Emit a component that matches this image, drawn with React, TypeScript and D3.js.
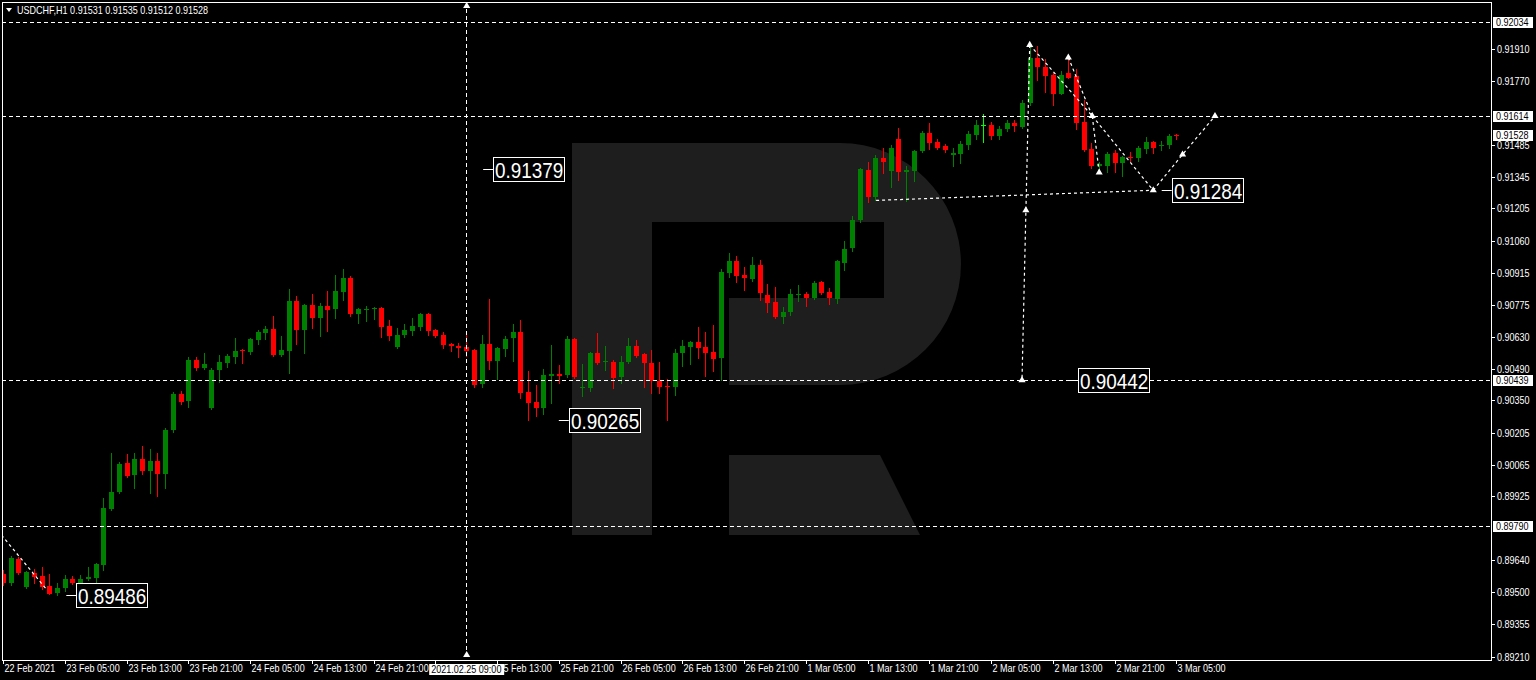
import { useEffect, useRef } from "react"
import * as d3 from "d3"

// USDCHF H1, one bar per hour from 22 Feb 2021 21:00 to 3 Mar 2021 05:00
const opens = [
  0.89578, 0.89539, 0.89645, 0.89521, 0.89583, 0.8957, 0.89525, 0.89494, 0.89516, 0.89556,
  0.89521, 0.89556, 0.89561, 0.89618, 0.89867, 0.89943, 0.90071, 0.90018, 0.90089, 0.90036,
  0.9008, 0.90022, 0.90218, 0.90378, 0.90347, 0.90529, 0.90493, 0.90316, 0.90484, 0.90515,
  0.90542, 0.90573, 0.90564, 0.90617, 0.90649, 0.90666, 0.90551, 0.90569, 0.90791, 0.90662,
  0.90773, 0.90715, 0.90768, 0.90755, 0.90831, 0.90893, 0.90733, 0.90751, 0.90755, 0.90759,
  0.9068, 0.90586, 0.9064, 0.90657, 0.90675, 0.90733, 0.90662, 0.9064, 0.906, 0.90591,
  0.90586, 0.90573, 0.90422, 0.906, 0.90524, 0.90577, 0.90626, 0.90653, 0.90387, 0.90342,
  0.90316, 0.90458, 0.90466, 0.90462, 0.90622, 0.90404, 0.90404, 0.9056, 0.9052, 0.9052,
  0.90453, 0.9052, 0.90591, 0.90555, 0.90515, 0.90436, 0.90413, 0.90409, 0.9056, 0.90586,
  0.90609, 0.90586, 0.90564, 0.90537, 0.90915, 0.90968, 0.90906, 0.90888, 0.9095, 0.90817,
  0.90786, 0.9072, 0.90742, 0.90817, 0.90822, 0.90804, 0.90875, 0.90831, 0.90799, 0.90959,
  0.91026, 0.9115, 0.91372, 0.91252, 0.91426, 0.91368, 0.91514, 0.91363, 0.91368, 0.91457,
  0.91537, 0.91497, 0.91479, 0.91439, 0.91443, 0.91483, 0.91528, 0.91572, 0.91572, 0.91523,
  0.91555, 0.91581, 0.91563, 0.9167, 0.91874, 0.9183, 0.91798, 0.91714, 0.91803, 0.9179,
  0.91586, 0.91466, 0.9139, 0.91394, 0.91448, 0.91403, 0.9143, 0.91426, 0.91466, 0.91497,
  0.91479, 0.91483, 0.91531,
]
const highs = [
  0.89596, 0.89658, 0.89654, 0.89592, 0.89601, 0.8961, 0.89578, 0.89539, 0.89574, 0.8957,
  0.89574, 0.8961, 0.89627, 0.89916, 0.90116, 0.90076, 0.90111, 0.90116, 0.90147, 0.90133,
  0.90116, 0.90227, 0.90387, 0.90391, 0.90542, 0.90542, 0.9056, 0.90493, 0.90551, 0.90555,
  0.90626, 0.90577, 0.90626, 0.90662, 0.9068, 0.90724, 0.90635, 0.90844, 0.90813, 0.90777,
  0.90822, 0.90782, 0.90835, 0.90906, 0.90933, 0.90902, 0.90759, 0.90768, 0.90764, 0.90764,
  0.90706, 0.90671, 0.90689, 0.90715, 0.90737, 0.90737, 0.90666, 0.90653, 0.90604, 0.90604,
  0.90653, 0.90577, 0.9064, 0.90799, 0.90586, 0.90635, 0.90689, 0.90706, 0.9048, 0.90418,
  0.90489, 0.90595, 0.90506, 0.90635, 0.90626, 0.90511, 0.90564, 0.90649, 0.90591, 0.90529,
  0.90546, 0.90626, 0.90617, 0.9056, 0.90573, 0.9052, 0.90444, 0.90577, 0.90617, 0.90613,
  0.90675, 0.90653, 0.90684, 0.90933, 0.91004, 0.9099, 0.90942, 0.90986, 0.90973, 0.90866,
  0.90853, 0.90764, 0.90844, 0.90862, 0.90831, 0.90879, 0.90879, 0.90848, 0.90973, 0.91057,
  0.91168, 0.91385, 0.91408, 0.91439, 0.91474, 0.91483, 0.91559, 0.9139, 0.91461, 0.91546,
  0.91581, 0.9151, 0.91488, 0.9147, 0.91501, 0.91546, 0.91598, 0.91625, 0.91586, 0.91568,
  0.91598, 0.91598, 0.91683, 0.9193, 0.91923, 0.91869, 0.91803, 0.91812, 0.91874, 0.91821,
  0.91683, 0.91492, 0.91408, 0.91452, 0.91461, 0.91435, 0.91452, 0.91479, 0.91519, 0.91501,
  0.91501, 0.91532, 0.91535,
]
const lows = [
  0.8953, 0.8953, 0.89578, 0.89516, 0.89539, 0.89512, 0.89488, 0.89486, 0.89503, 0.89534,
  0.89516, 0.89552, 0.89521, 0.89596, 0.89863, 0.89938, 0.90009, 0.8996, 0.90022, 0.89938,
  0.89925, 0.8996, 0.90209, 0.90333, 0.9032, 0.90484, 0.90489, 0.90311, 0.90431, 0.90498,
  0.90515, 0.90515, 0.90555, 0.906, 0.90622, 0.90546, 0.90546, 0.90471, 0.906, 0.9056,
  0.90671, 0.90635, 0.90657, 0.90715, 0.90795, 0.90724, 0.90693, 0.90702, 0.90711, 0.90631,
  0.90617, 0.90582, 0.90631, 0.9064, 0.90662, 0.9064, 0.90631, 0.90582, 0.90569, 0.90542,
  0.90546, 0.90409, 0.90409, 0.90489, 0.90444, 0.90546, 0.90524, 0.9036, 0.90265, 0.9028,
  0.90289, 0.90338, 0.90427, 0.90453, 0.90449, 0.90369, 0.90391, 0.90511, 0.90484, 0.90404,
  0.90427, 0.90515, 0.90542, 0.90409, 0.90382, 0.90382, 0.90262, 0.90373, 0.90502, 0.90511,
  0.90537, 0.90458, 0.9048, 0.9044, 0.90897, 0.90875, 0.90839, 0.90879, 0.90795, 0.90742,
  0.90715, 0.90693, 0.90728, 0.90791, 0.90768, 0.90799, 0.90822, 0.90777, 0.90782, 0.90928,
  0.91013, 0.91141, 0.9123, 0.91243, 0.91359, 0.91297, 0.91328, 0.91235, 0.91324, 0.91452,
  0.91466, 0.91466, 0.91452, 0.91394, 0.91403, 0.91466, 0.9151, 0.91497, 0.91514, 0.9151,
  0.91546, 0.91546, 0.91559, 0.91665, 0.91776, 0.91719, 0.91661, 0.9171, 0.91781, 0.91555,
  0.91457, 0.91385, 0.91359, 0.91363, 0.91363, 0.91346, 0.91412, 0.91412, 0.91448, 0.91448,
  0.91461, 0.91474, 0.91512,
]
const closes = [
  0.89539, 0.8965, 0.89583, 0.89587, 0.89565, 0.89521, 0.8949, 0.89516, 0.89556, 0.89539,
  0.89556, 0.89565, 0.89623, 0.89871, 0.89943, 0.90067, 0.90014, 0.90089, 0.90036, 0.9008,
  0.90022, 0.90218, 0.90378, 0.90342, 0.90529, 0.90493, 0.90511, 0.90484, 0.9052, 0.90546,
  0.90569, 0.90569, 0.90622, 0.90653, 0.90666, 0.90551, 0.90573, 0.90791, 0.90662, 0.90773,
  0.90715, 0.90768, 0.90751, 0.90835, 0.90893, 0.90733, 0.90755, 0.90755, 0.90759, 0.90675,
  0.90635, 0.9064, 0.90662, 0.9068, 0.90733, 0.90657, 0.90635, 0.90595, 0.90591, 0.90582,
  0.90569, 0.90418, 0.906, 0.90524, 0.90582, 0.90622, 0.90653, 0.90382, 0.90338, 0.90316,
  0.90462, 0.90466, 0.90458, 0.90622, 0.90453, 0.90409, 0.9056, 0.90515, 0.90524, 0.90449,
  0.9052, 0.90591, 0.90546, 0.90515, 0.90436, 0.90409, 0.90409, 0.9056, 0.90591, 0.90609,
  0.90582, 0.9056, 0.90533, 0.90919, 0.90968, 0.90902, 0.90893, 0.9095, 0.90826, 0.90782,
  0.9072, 0.90742, 0.90822, 0.90822, 0.90804, 0.90871, 0.90826, 0.90804, 0.90968, 0.91021,
  0.9115, 0.91377, 0.91252, 0.91426, 0.91408, 0.9147, 0.91363, 0.91372, 0.91457, 0.91537,
  0.91492, 0.91474, 0.91461, 0.91448, 0.91488, 0.91532, 0.91572, 0.91572, 0.91523, 0.91555,
  0.91581, 0.91568, 0.91674, 0.91874, 0.9183, 0.91794, 0.91714, 0.91798, 0.91785, 0.91581,
  0.91461, 0.9139, 0.91399, 0.91443, 0.91403, 0.9143, 0.91426, 0.91474, 0.91497, 0.91474,
  0.91483, 0.91523, 0.91528,
]

// one time label every 8 bars, starting at bar 0
const timeLabels = [
  "22 Feb 2021", "23 Feb 05:00", "23 Feb 13:00", "23 Feb 21:00", "24 Feb 05:00",
  "24 Feb 13:00", "24 Feb 21:00", "25 Feb 05:00", "25 Feb 13:00", "25 Feb 21:00",
  "26 Feb 05:00", "26 Feb 13:00", "26 Feb 21:00", "1 Mar 05:00", "1 Mar 13:00",
  "1 Mar 21:00", "2 Mar 05:00", "2 Mar 13:00", "2 Mar 21:00", "3 Mar 05:00",
]
const priceTicks = [
  0.9191, 0.9177, 0.91485, 0.91345, 0.91205, 0.9106, 0.90915, 0.90775, 0.9063, 0.9049,
  0.9035, 0.90205, 0.90065, 0.89925, 0.8964, 0.895, 0.89355, 0.8921,
]
const markedPrices = [0.92034, 0.91614, 0.91528, 0.90439, 0.8979]
const levelPrices = [0.92034, 0.91614, 0.90439, 0.8979]

const crossBar = 60
const crossLabel = "2021.02.25 09:00"

// price callouts: bar where the leader starts, and the price
const calloutBars = [8.2, 62.2, 72, 138, 150.1]
const calloutPrices = [0.89486, 0.91379, 0.90265, 0.90442, 0.91284]

// dashed analysis lines as [bar, price] pairs
const trendLines: [number, number][][] = [
  [[-0.2, 0.89752], [5.6, 0.89512]],
  [[113.1, 0.91239], [149, 0.91284]],
  [[133, 0.9193], [132, 0.9044]],
  [[133, 0.9193], [141.1, 0.91614]],
  [[138, 0.91874], [141.1, 0.91614]],
  [[141.1, 0.91614], [142, 0.91363]],
  [[141.1, 0.91614], [149, 0.91284], [152.8, 0.91443], [157, 0.91614]],
]
const markerPoints: [number, number][] = [
  [133, 0.9193], [138, 0.91874], [141.1, 0.91614], [142, 0.91363], [149, 0.91284],
  [152.8, 0.91443], [157, 0.91614], [132.5, 0.91195], [132, 0.9044],
]

const FONT = "'Liberation Sans', Arial, sans-serif"
const SX = 0.86

export default function App() {
  const svgRef = useRef<SVGSVGElement>(null)

  useEffect(() => {
    if (!svgRef.current) return
    const svg = d3.select(svgRef.current)
    svg.selectAll("*").remove()

    const frame = { left: 2, top: 2, right: 1491, bottom: 660 }
    const x = d3.scaleLinear().domain([0, 152]).range([3, 1176.4])
    const y = d3.scaleLinear().domain([0.8921, 0.92034]).range([657, 21.5])

    const text = (g: any, tx: number, ty: number, str: string, size: number, fill: string) =>
      g
        .append("text")
        .attr("transform", `translate(${tx},${ty}) scale(${SX},1)`)
        .attr("font-family", FONT)
        .attr("font-size", size)
        .attr("fill", fill)
        .text(str)

    svg.append("rect").attr("width", 1536).attr("height", 680).attr("fill", "#000")

    // RoboForex watermark
    svg
      .append("path")
      .attr("fill", "#1e1e1e")
      .attr("fill-rule", "evenodd")
      .attr(
        "d",
        "M572,143 H840 A121,121 0 0 1 840,385 H729 V298 H652 V535 H572 Z M652,222 H884 V298 H652 Z M729,455 H880 L920,535 H729 Z"
      )

    const clip = svg.append("clipPath").attr("id", "plot-clip")
    clip
      .append("rect")
      .attr("x", frame.left + 1)
      .attr("y", frame.top + 1)
      .attr("width", frame.right - frame.left - 1)
      .attr("height", frame.bottom - frame.top - 1)

    const plot = svg.append("g").attr("clip-path", "url(#plot-clip)")

    // candles
    const bars = d3.range(opens.length)
    const colorOf = (i: number) =>
      closes[i] > opens[i] ? "#008000" : closes[i] < opens[i] ? "#ff0000" : "#00ff00"

    plot
      .selectAll(".wick")
      .data(bars)
      .enter()
      .append("line")
      .attr("x1", (i) => Math.round(x(i)) + 0.5)
      .attr("x2", (i) => Math.round(x(i)) + 0.5)
      .attr("y1", (i) => Math.round(y(highs[i])))
      .attr("y2", (i) => Math.round(y(lows[i])) + 1)
      .attr("stroke", colorOf)
      .attr("stroke-width", 1)

    plot
      .selectAll(".body")
      .data(bars)
      .enter()
      .append("rect")
      .attr("x", (i) => Math.round(x(i)) - 2)
      .attr("y", (i) => Math.round(y(Math.max(opens[i], closes[i]))))
      .attr("width", 5)
      .attr("height", (i) =>
        Math.max(1, Math.round(y(Math.min(opens[i], closes[i]))) - Math.round(y(Math.max(opens[i], closes[i]))))
      )
      .attr("fill", colorOf)
      .attr("shape-rendering", "crispEdges")

    // horizontal levels and the crosshair line
    const dash = "4,3"
    levelPrices.forEach((p) => {
      plot
        .append("line")
        .attr("x1", frame.left)
        .attr("x2", frame.right)
        .attr("y1", Math.round(y(p)) + 0.5)
        .attr("y2", Math.round(y(p)) + 0.5)
        .attr("stroke", "#fff")
        .attr("stroke-dasharray", dash)
    })
    plot
      .append("line")
      .attr("x1", Math.round(x(crossBar)) + 0.5)
      .attr("x2", Math.round(x(crossBar)) + 0.5)
      .attr("y1", frame.top)
      .attr("y2", frame.bottom)
      .attr("stroke", "#fff")
      .attr("stroke-dasharray", dash)

    // analysis lines
    const line = d3
      .line<[number, number]>()
      .x((d) => x(d[0]))
      .y((d) => y(d[1]))
    trendLines.forEach((pts) => {
      plot
        .append("path")
        .attr("d", line(pts))
        .attr("fill", "none")
        .attr("stroke", "#fff")
        .attr("stroke-width", 1.2)
        .attr("stroke-dasharray", "3,3")
    })
    const marker = d3.symbol().type(d3.symbolTriangle).size(22)
    markerPoints.forEach((d) => {
      plot
        .append("path")
        .attr("d", marker)
        .attr("transform", `translate(${x(d[0])},${y(d[1])})`)
        .attr("fill", "#fff")
    })
    ;[frame.top + 4, frame.bottom - 5].forEach((py) => {
      plot
        .append("path")
        .attr("d", marker)
        .attr("transform", `translate(${x(crossBar) + 0.5},${py})`)
        .attr("fill", "#fff")
    })

    // price callouts
    calloutBars.forEach((b, k) => {
      const cx = x(b)
      const cy = Math.round(y(calloutPrices[k])) + 0.5
      plot
        .append("line")
        .attr("x1", cx)
        .attr("x2", cx + 10)
        .attr("y1", cy)
        .attr("y2", cy)
        .attr("stroke", "#fff")
      plot
        .append("rect")
        .attr("x", Math.round(cx + 10) + 0.5)
        .attr("y", cy - 12)
        .attr("width", 71)
        .attr("height", 24)
        .attr("fill", "#000")
        .attr("stroke", "#fff")
      text(plot, Math.round(cx + 12), cy + 8, calloutPrices[k].toFixed(5), 22, "#fff")
    })

    // frame
    svg
      .append("rect")
      .attr("x", frame.left + 0.5)
      .attr("y", frame.top + 0.5)
      .attr("width", frame.right - frame.left)
      .attr("height", frame.bottom - frame.top)
      .attr("fill", "none")
      .attr("stroke", "#fff")

    // price axis
    priceTicks.forEach((p) => {
      const py = Math.round(y(p)) + 0.5
      svg.append("line").attr("x1", frame.right).attr("x2", frame.right + 4).attr("y1", py).attr("y2", py).attr("stroke", "#fff")
      text(svg, 1497, py + 3.5, p.toFixed(5), 10.5, "#fff")
    })
    markedPrices.forEach((p) => {
      const py = Math.round(y(p))
      svg.append("rect").attr("x", 1493).attr("y", py - 5).attr("width", 40).attr("height", 11).attr("fill", "#fff")
      text(svg, 1496, py + 4, p.toFixed(5), 10.5, "#000")
    })

    // time axis; the crosshair box hides the label under it
    const chx = x(crossBar)
    const boxLeft = chx - 37
    const boxRight = chx + 38
    timeLabels.forEach((t, k) => {
      const tx = Math.round(x(k * 8)) + 0.5
      svg.append("line").attr("x1", tx).attr("x2", tx).attr("y1", frame.bottom).attr("y2", frame.bottom + 4).attr("stroke", "#fff")
      const hidden = tx >= boxLeft - 8 && tx <= boxRight - 10
      if (!hidden) text(svg, tx + 1, 672, t, 10.5, "#fff")
    })
    svg.append("rect").attr("x", boxLeft).attr("y", 664).attr("width", boxRight - boxLeft).attr("height", 11).attr("fill", "#fff")
    text(svg, chx - 35, 673, crossLabel, 10.5, "#000")

    // title
    svg.append("path").attr("d", "M6,8 L12,8 L9,12 Z").attr("fill", "#fff")
    text(
      svg,
      17,
      14,
      `USDCHF,H1  ${opens[152].toFixed(5)} ${highs[152].toFixed(5)} ${lows[152].toFixed(5)} ${closes[152].toFixed(5)}`,
      10.5,
      "#fff"
    )
  }, [])

  return (
    <svg
      ref={svgRef}
      width={1536}
      height={680}
      style={{ position: "fixed", left: 0, top: 0, display: "block" }}
    />
  )
}
